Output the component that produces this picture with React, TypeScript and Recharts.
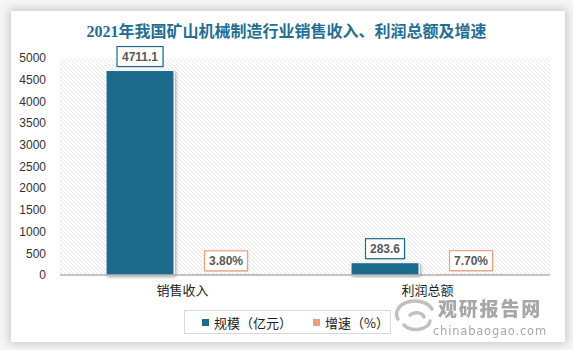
import React from "react";
import { BarChart, Bar, XAxis, YAxis, CartesianGrid, LabelList, Legend } from "recharts";

const categories = ["销售收入", "利润总额"];
const scaleValues = [4711.1, 283.6];
const growthValues = [3.8, 7.7];
const growthLabels = ["3.80%", "7.70%"];
const yTicks = [0, 500, 1000, 1500, 2000, 2500, 3000, 3500, 4000, 4500, 5000];
const title = "2021年我国矿山机械制造行业销售收入、利润总额及增速";
const seriesNames = ["规模（亿元）", "增速（%）"];

const data = categories.map((c, i) => ({
  name: c,
  scale: scaleValues[i],
  growth: growthValues[i],
  growthLabel: growthLabels[i],
}));

const BLUE = "#1f6a8c";
const ORANGE = "#e9a07f";

function textWidth(s: string) {
  let w = 0;
  for (const ch of s) {
    if (ch === ".") w += 3.34;
    else if (ch === "%") w += 10.67;
    else w += 6.67;
  }
  return w;
}

const makeLabel = (color: string, fmt: (v: any, i: number) => string) => (props: any) => {
  const { x, y, width, value, index } = props;
  const txt = fmt(value, index);
  const w = Math.round(textWidth(txt) + 9);
  const h = 20;
  const cx = x + width / 2;
  const top = y - 4 - h;
  return (
    <g>
      <rect x={cx - w / 2 + 1} y={top + 1} width={w} height={h} fill="rgba(0,0,0,0.12)" />
      <rect x={cx - w / 2} y={top} width={w} height={h} fill="#fff" stroke={color} strokeWidth={1.2} />
      <text
        x={cx}
        y={top + h / 2 + 4.5}
        textAnchor="middle"
        fontFamily="'Liberation Sans', Arial, sans-serif"
        fontWeight="bold"
        fontSize={12}
        fill="#595959"
      >
        {txt}
      </text>
    </g>
  );
};

const LegendContent = () => (
  <div
    style={{
      width: 207,
      height: 24,
      boxSizing: "border-box",
      border: "1px solid #d9d9d9",
      display: "flex",
      alignItems: "center",
      fontFamily: "'Noto Sans CJK SC', sans-serif",
      fontSize: 13,
      color: "#222",
      background: "#fff",
    }}
  >
    <span style={{ display: "inline-block", width: 7, height: 7, background: BLUE, marginLeft: 17, marginRight: 5 }} />
    <span style={{ letterSpacing: 0 }}>{seriesNames[0]}</span>
    <span style={{ display: "inline-block", width: 7, height: 7, background: ORANGE, marginLeft: 21, marginRight: 5 }} />
    <span>{seriesNames[1]}</span>
  </div>
);

export default function App() {
  return (
    <div style={{ position: "absolute", left: 0, top: 0, width: 573, height: 350, background: "#f6f6f6", overflow: "hidden" }}>
      <div
        style={{
          position: "absolute",
          left: 11,
          top: 11,
          width: 554,
          height: 331,
          background: "#fff",
          boxShadow: "0 0 9px 2px rgba(0,0,0,0.18)",
        }}
      />
      <div
        style={{
          position: "absolute",
          left: 0,
          top: 21,
          width: 573,
          textAlign: "center",
          fontFamily: "'Liberation Serif', 'Noto Sans CJK SC', serif",
          fontWeight: "bold",
          fontSize: 16,
          color: "#236f94",
          lineHeight: "22px",
        }}
      >
        {title}
      </div>
      <div style={{ position: "absolute", left: 0, top: 0 }}>
        <BarChart
          width={573}
          height={350}
          data={data}
          margin={{ top: 58, right: 23, left: 0, bottom: 31 }}
          barGap={18}
          barSize={68}
        >
          <defs>
            <pattern id="hatch" patternUnits="userSpaceOnUse" width="4" height="4">
              <rect width="4" height="4" fill="#fff" />
              <path d="M-1,-1 L5,5 M-1,3 L1,5 M3,-1 L5,1" stroke="#d0d0d0" strokeWidth={0.75} strokeDasharray="1 0.6" />
            </pattern>
            <filter id="barShadow" x="-10%" y="-10%" width="130%" height="130%">
              <feDropShadow dx="1.5" dy="1.5" stdDeviation="1.5" floodColor="#000" floodOpacity="0.35" />
            </filter>
          </defs>
          <CartesianGrid horizontal={false} vertical={false} fill="url(#hatch)" stroke="none" />
          <XAxis
            dataKey="name"
            axisLine={{ stroke: "#8c8c8c", strokeWidth: 1.2 }}
            tickLine={false}
            height={20}
            tickMargin={5}
            tick={{ fontSize: 13, fill: "#222", fontFamily: "'Noto Sans CJK SC', sans-serif" }}
          />
          <YAxis
            domain={[0, 5000]}
            ticks={yTicks}
            width={60}
            axisLine={false}
            tickLine={false}
            tickMargin={8}
            interval={0}
            tick={{ fontSize: 12, fill: "#333", fontFamily: "'Liberation Sans', Arial, sans-serif" }}
          />
          <Legend
            content={<LegendContent />}
            wrapperStyle={{ position: "absolute", left: 184, top: 310, width: 207, height: 24 }}
          />
          <Bar dataKey="scale" name={seriesNames[0]} fill={BLUE} stroke="#fff" strokeWidth={1} filter="url(#barShadow)" isAnimationActive={false}>
            <LabelList dataKey="scale" content={makeLabel(BLUE, (v) => String(v))} />
          </Bar>
          <Bar dataKey="growth" name={seriesNames[1]} fill={ORANGE} isAnimationActive={false}>
            <LabelList dataKey="growth" content={makeLabel(ORANGE, (v, i) => growthLabels[i])} />
          </Bar>
        </BarChart>
      </div>
      <svg style={{ position: "absolute", left: 0, top: 0, pointerEvents: "none" }} width={573} height={350}>
        <g opacity={0.55} fill="none" stroke="#8f8f8f" strokeWidth={3.5} strokeLinecap="round">
          <path d="M398,319 A17,12 0 0 1 432,309" />
          <path d="M404,325 A14,9 0 0 0 430,321" />
          <path d="M410,315 A8,6 0 0 1 424,317" />
        </g>
        <text x={438} y={316} fontFamily="'Noto Sans CJK SC', sans-serif" fontWeight="900" fontSize={19} fill="#8a8a8a" opacity={0.75} letterSpacing={1.8}>
          观研报告网
        </text>
        <text x={433} y={335} fontFamily="'DejaVu Sans', sans-serif" fontSize={11.5} fill="#8a8a8a" opacity={0.75} letterSpacing={0.8}>
          chinabaogao.com
        </text>
      </svg>
    </div>
  );
}
